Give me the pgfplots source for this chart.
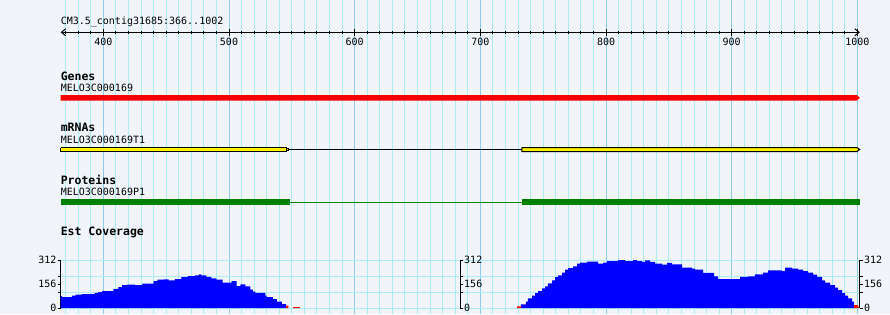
\documentclass[border=0pt]{standalone}
\usepackage{pgfplots}
\pgfplotsset{compat=1.18}
\usetikzlibrary{arrows.meta}
\usepackage{fontspec}
\setmainfont{DejaVu Sans}
\newfontfamily\monof{DejaVu Sans Mono}
\definecolor{bgc}{RGB}{241,245,250}
\definecolor{gmin}{RGB}{170,236,240}
\definecolor{gmaj}{RGB}{140,204,232}
\definecolor{cvblue}{RGB}{0,0,255}
\definecolor{pgreen}{RGB}{0,128,0}
\newcommand{\sm}{\monof\fontsize{10}{12}\selectfont}
\newcommand{\bd}{\monof\bfseries\fontsize{11.5}{13}\selectfont}

\pgfplotstableread{
x v
366 78
367 70
375 80
378 87
383 91
393 98
396 104
399 110
408 124
412 135
415 148
419 152
425 148
431 158
440 174
443 185
448 186
452 180
457 187
462 200
467 208
473 212
476 218
478 212
482 202
486 193
490 185
495 165
502 174
506 143
509 154
513 141
517 120
519 107
521 98
529 81
530 70
535 57
538 42
542 26
545.4 26
}\covleft

\pgfplotstableread{
x v
732.3 24
736.3 42
737.9 63
741.1 81
743.5 96
745.9 110
749.1 128
751.5 141
753.8 160
757 180
759.4 200
761.8 212
765 230
767.4 249
769.8 260
773.8 271
777 288
779.3 295
784.9 301
793.7 288
797.6 295
800.8 305
809.6 312
815.1 305
821.5 315
824.7 305
828.7 300
831.1 310
835.1 300
839 288
844.6 282
848.6 293
852.6 284
860.5 263
868.4 256
870.8 250
877.2 228
885.9 206
889.1 187
906.6 202
913 206
918.5 219
924.9 230
928.9 245
940 240
942.4 263
948 256
952.8 250
956.8 239
960.8 230
964.7 217
967.9 202
971.9 180
974.3 165
978.3 148
982.2 133
984.6 117
987.8 96
990.2 81
992.6 63
995.8 42
997.4 42
}\covright

\begin{document}
\begin{tikzpicture}[x=1pt,y=1pt]
\path[use as bounding box, fill=bgc] (0,0) rectangle (890,314);

% ---- background grid and feature tracks (y in pixels from top)
\begin{axis}[at={(60.6pt,0pt)}, anchor=south west, scale only axis,
  width=799.3pt, height=314pt,
  xmin=366, xmax=1002, ymin=0, ymax=314, y dir=reverse, clip=false,
  axis line style={draw=none}, tick style={draw=none},
  xtick={400,500,...,1000}, minor xtick={370,380,...,1000}, ytick=\empty,
  xticklabels={}, xmajorgrids, xminorgrids,
  major grid style={gmaj, line width=1pt},
  minor grid style={gmin, line width=1pt}]
% Genes
\addplot[fill=red, draw=none] coordinates {(366,95)(999.3,95)(1002,97.8)(999.3,100.7)(366,100.7)};
% mRNAs
\addplot[black, line width=1pt] coordinates {(545.4,149.5)(733.1,149.5)};
\addplot[fill=yellow, draw=black, line width=1pt] coordinates {(366,147.5)(545.4,147.5)(545.4,151.5)(366,151.5)(366,147.5)};
\addplot[black, fill=yellow, line width=0.8pt] coordinates {(545.4,148.5)(547,148.5)(547,150.5)(545.4,150.5)(545.4,148.5)};
\addplot[fill=yellow, draw=black, line width=1pt] coordinates {(733.1,147.5)(999.6,147.5)(1001.8,149.5)(999.6,151.5)(733.1,151.5)(733.1,147.5)};
% Proteins
\addplot[pgreen, line width=1pt] coordinates {(548.6,202)(733.1,202)};
\addplot[fill=pgreen, draw=none] coordinates {(366,199.3)(548.6,199.3)(548.6,204.7)(366,204.7)};
\addplot[fill=pgreen, draw=none] coordinates {(733.1,199.3)(1002,199.3)(1002,204.7)(733.1,204.7)};
% texts
\node[anchor=base west, inner sep=0pt] at (axis cs:366,24.5) {\sm CM3.5\_contig31685:366..1002};
\node[anchor=base west, inner sep=0pt] at (axis cs:366,80) {\bd Genes};
\node[anchor=base west, inner sep=0pt] at (axis cs:366,91.7) {\sm MELO3C000169};
\node[anchor=base west, inner sep=0pt] at (axis cs:366,131.7) {\bd mRNAs};
\node[anchor=base west, inner sep=0pt] at (axis cs:366,143.4) {\sm MELO3C000169T1};
\node[anchor=base west, inner sep=0pt] at (axis cs:366,184) {\bd Proteins};
\node[anchor=base west, inner sep=0pt] at (axis cs:366,195.8) {\sm MELO3C000169P1};
\node[anchor=base west, inner sep=0pt] at (axis cs:366,235.7) {\bd Est Coverage};
\end{axis}

% ---- ruler
\begin{axis}[at={(60.6pt,281.7pt)}, anchor=west, scale only axis,
  width=799.3pt, height=10pt,
  xmin=366, xmax=1002, ymin=-1, ymax=1,
  axis x line=middle, axis y line=none,
  x axis line style={{Straight Barb[length=4.3pt,width=7pt]}-{Straight Barb[length=4.3pt,width=7pt]}, line width=1pt},
  xtick={400,500,...,1000}, minor xtick={370,380,...,1000},
  tick align=center, major tick length=7pt, minor tick length=3.5pt,
  tick style={black, line width=1pt},
  /pgf/number format/1000 sep={}, /pgf/number format/assume math mode=true,
  xticklabel style={font=\sm, anchor=north, inner sep=0pt, yshift=-2.5pt}]
\end{axis}

% ---- coverage (left axis, grid, data)
\begin{axis}[at={(60.6pt,6pt)}, anchor=south west, scale only axis,
  width=799.3pt, height=48pt,
  xmin=366, xmax=1002, ymin=0, ymax=312,
  axis x line=none, axis y line*=left,
  y axis line style={line width=1pt},
  ytick={0,156,312}, minor ytick={0,104,208,312}, yminorgrids,
  minor grid style={gmin, line width=1pt},
  tick align=outside, major tick length=3pt, minor tick length=3pt,
  tick style={black, line width=1pt},
  /pgf/number format/assume math mode=true,
  yticklabel style={font=\sm, inner sep=1pt}]
\addplot[const plot, fill=cvblue, draw=none] table[x=x,y=v] {\covleft} \closedcycle;
\addplot[const plot, fill=cvblue, draw=none] table[x=x,y=v] {\covright} \closedcycle;
\addplot[const plot, fill=red, draw=none] coordinates {(545.4,16)(547.2,16)} \closedcycle;
\addplot[const plot, fill=red, draw=none] coordinates {(551,5)(556.6,5)} \closedcycle;
\addplot[const plot, fill=red, draw=none] coordinates {(729.2,10)(732.3,10)} \closedcycle;
\addplot[const plot, fill=red, draw=none] coordinates {(997.4,18)(1000.6,8)(1002,8)} \closedcycle;
\end{axis}

% ---- coverage middle axis
\begin{axis}[at={(60.6pt,6pt)}, anchor=south west, scale only axis,
  width=399.4pt, height=48pt,
  xmin=366, xmax=683.8, ymin=0, ymax=312,
  axis x line=none, axis y line*=right,
  y axis line style={line width=1pt},
  ytick={0,156,312}, minor ytick={104,208},
  tick align=outside, major tick length=3pt, minor tick length=3pt,
  tick style={black, line width=1pt},
  /pgf/number format/assume math mode=true,
  yticklabel style={font=\sm, inner sep=1pt}]
\end{axis}

% ---- coverage right axis
\begin{axis}[at={(60.6pt,6pt)}, anchor=south west, scale only axis,
  width=799.3pt, height=48pt,
  xmin=366, xmax=1002, ymin=0, ymax=312,
  axis x line=none, axis y line*=right,
  y axis line style={line width=1pt},
  ytick={0,156,312}, minor ytick={104,208},
  tick align=outside, major tick length=3pt, minor tick length=3pt,
  tick style={black, line width=1pt},
  /pgf/number format/assume math mode=true,
  yticklabel style={font=\sm, inner sep=1pt}]
\end{axis}
\end{tikzpicture}
\end{document}
